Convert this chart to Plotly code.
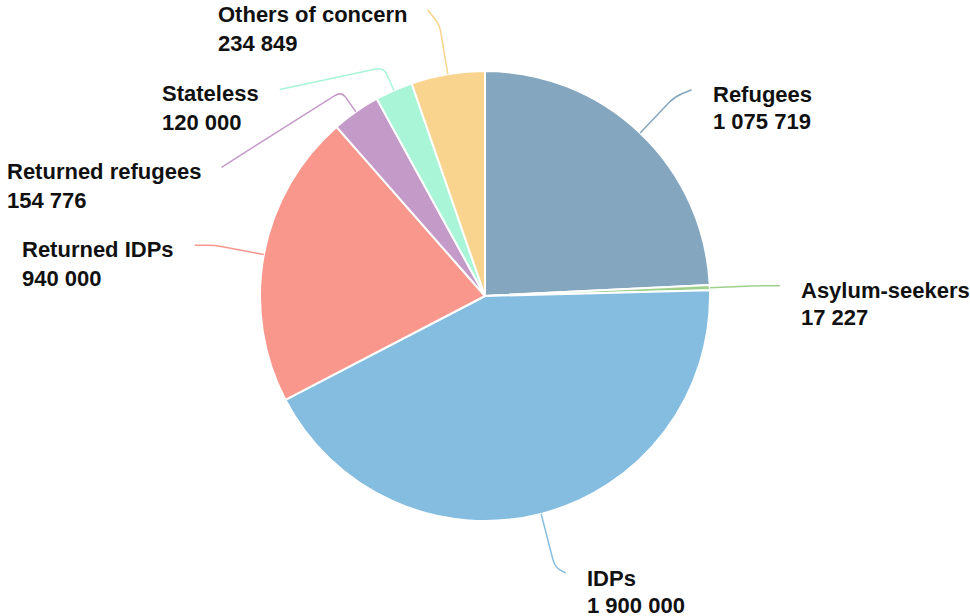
import math
import plotly.graph_objects as go

# ---- data ----
categories = ["Refugees", "Asylum-seekers", "IDPs", "Returned IDPs",
              "Returned refugees", "Stateless", "Others of concern"]
values = [1075719, 17227, 1900000, 940000, 154776, 120000, 234849]
colors = ["#84A6BE", "#9FD08B", "#84BDE0", "#F9978D", "#C49BC8", "#A9F5D7", "#F8D48F"]

# ---- layout / style params ----
W, H = 970, 616
CX, CY, R = 485, 296, 225    # in screen pixels
elbow_len = [50, 50, 55, 50, 25, 25, 50]          # radial first segment of label line
end_offset = [(17, -7), (20, 0), (11, 6), (-20, 0), (-120, 76), (-104, 22), (-12, -15)]  # label shift
TEXT_GAP = 20
LINE_STEP = 27
FONT = dict(family="Liberation Sans, Arial, sans-serif", size=22, color="#111111", weight="bold")


def fmt(v):
    return f"{v:,}".replace(",", " ")


def px(x, y):
    return x / W, 1 - y / H


dx0, dy0 = px(CX - R, CY + R)
dx1, dy1 = px(CX + R, CY - R)
fig = go.Figure(go.Pie(
    labels=categories, values=values, sort=False, direction="clockwise", rotation=0,
    marker=dict(colors=colors, line=dict(color="white", width=2)),
    textinfo="none", hoverinfo="label+value", showlegend=False,
    domain=dict(x=[dx0, dx1], y=[dy0, dy1]),
))

total = sum(values)
cum = 0.0
shapes, annotations = [], []
for i, (cat, v) in enumerate(zip(categories, values)):
    a0 = cum / total * 2 * math.pi
    cum += v
    a1 = cum / total * 2 * math.pi
    mid = (a0 + a1) / 2
    ux, uy = math.sin(mid), -math.cos(mid)
    sx, sy = CX + R * ux, CY + R * uy
    mx, my = CX + (R + elbow_len[i]) * ux, CY + (R + elbow_len[i]) * uy
    ex, ey = mx + end_offset[i][0], my + end_offset[i][1]
    # smoothing around elbow
    k = 8
    d1 = math.hypot(mx - sx, my - sy)
    d2 = math.hypot(ex - mx, ey - my)
    ax, ay = mx - (mx - sx) / d1 * min(k, d1 / 2), my - (my - sy) / d1 * min(k, d1 / 2)
    bx, by = mx + (ex - mx) / d2 * min(k, d2 / 2), my + (ey - my) / d2 * min(k, d2 / 2)
    pts = [px(sx, sy), px(ax, ay), px(mx, my), px(bx, by), px(ex, ey)]
    path = (f"M {pts[0][0]},{pts[0][1]} L {pts[1][0]},{pts[1][1]} "
            f"Q {pts[2][0]},{pts[2][1]} {pts[3][0]},{pts[3][1]} L {pts[4][0]},{pts[4][1]}")
    shapes.append(dict(type="path", xref="paper", yref="paper", path=path,
                       line=dict(color=colors[i], width=1.5)))
    right = ex >= CX
    if right:
        tx = ex + TEXT_GAP
        for j, txt in enumerate([cat, fmt(v)]):
            X, Y = px(tx, ey + 5 + LINE_STEP * j)
            annotations.append(dict(x=X, y=Y, xref="paper", yref="paper", text=txt,
                                    showarrow=False, xanchor="left", yanchor="middle",
                                    font=FONT, borderpad=0))
    else:
        tx = ex - TEXT_GAP
        X, Y = px(tx, ey + 5 - 14)
        annotations.append(dict(x=X, y=Y, xref="paper", yref="paper",
                                text=f"{cat}<br>{fmt(v)}", align="left",
                                showarrow=False, xanchor="right", yanchor="top",
                                font=FONT, borderpad=0))

fig.update_layout(width=W, height=H, margin=dict(l=0, r=0, t=0, b=0),
                  paper_bgcolor="white", plot_bgcolor="white",
                  shapes=shapes, annotations=annotations)
fig.write_html("out.html", config={"displayModeBar": False},
               post_script="document.body.style.margin='0';document.body.style.overflow='hidden';")
